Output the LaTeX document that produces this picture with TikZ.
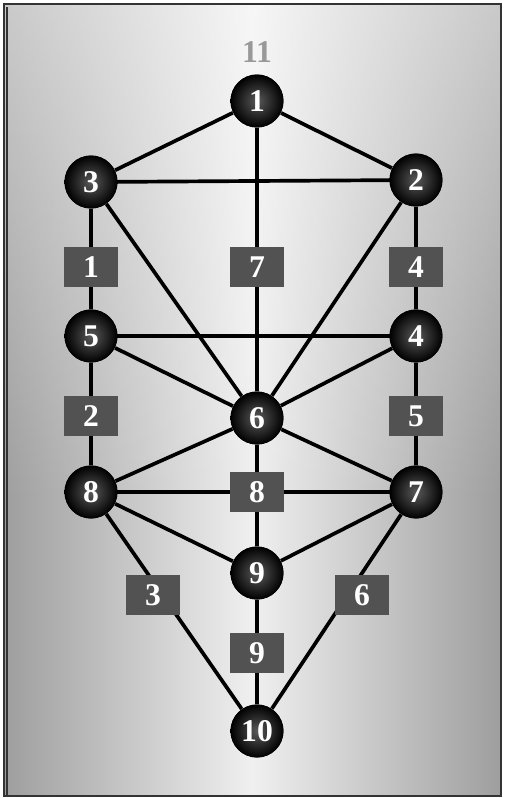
\documentclass[tikz,border=0pt]{standalone}
\usepackage{fontspec}
\setmainfont{Liberation Serif}
\usetikzlibrary{fadings}
\begin{document}
\begin{tikzpicture}[x=0.02cm,y=-0.02cm,
  sefira/.style={circle,minimum size=1.06cm,inner sep=0pt,inner color=black!65,outer color=black,text=white,font=\fontsize{18}{18}\selectfont\bfseries},
  path/.style={rectangle,minimum width=1.1cm,minimum height=0.8cm,inner sep=0pt,fill=black!68,text=white,font=\fontsize{18}{18}\selectfont\bfseries},
  link/.style={line width=2.1pt,black}]
\useasboundingbox (0,0) rectangle (505,798);
\shade[left color=black!38,right color=black!38,middle color=black!6] (4,4) rectangle (501,796);
\fill[white,opacity=0.45,path fading=south] (4,4) rectangle (501,500);
\draw[line width=1pt,black!80] (4,4) rectangle (501,796);
\draw[line width=0.6pt,black!80] (7,7) -- (7,796);
\node[text=black!40,font=\fontsize{18}{18}\selectfont\bfseries] (t) at (257,52){11};
\node[sefira] (s1) at (257,101){1};
\node[sefira] (s2) at (416,180){2};
\node[sefira] (s3) at (91,182){3};
\node[sefira] (s4) at (416,336){4};
\node[sefira] (s5) at (91,336){5};
\node[sefira] (s6) at (257,418){6};
\node[sefira] (s7) at (416,492){7};
\node[sefira] (s8) at (91,492){8};
\node[sefira] (s9) at (257,573){9};
\node[sefira] (s10) at (257,731){10};
\draw[link] (s1)--(s2) (s1)--(s3) (s1)--(s6) (s3)--(s2) (s3)--(s5) (s3)--(s6)
  (s2)--(s4) (s2)--(s6) (s5)--(s4) (s5)--(s6) (s4)--(s6) (s5)--(s8) (s4)--(s7)
  (s6)--(s8) (s6)--(s7) (s6)--(s9) (s8)--(s7) (s8)--(s9) (s7)--(s9)
  (s8)--(s10) (s7)--(s10) (s9)--(s10);
\node[path] (p1) at (91,267){1};
\node[path] (p2) at (91,416){2};
\node[path] (p3) at (153,595){3};
\node[path] (p4) at (416,267){4};
\node[path] (p5) at (416,416){5};
\node[path] (p6) at (362,595){6};
\node[path] (p7) at (257,267){7};
\node[path] (p8) at (257,492){8};
\node[path] (p9) at (257,653){9};
\foreach \n in {1,...,10}
  \node[sefira] at (s\n){\n};
\end{tikzpicture}
\end{document}
